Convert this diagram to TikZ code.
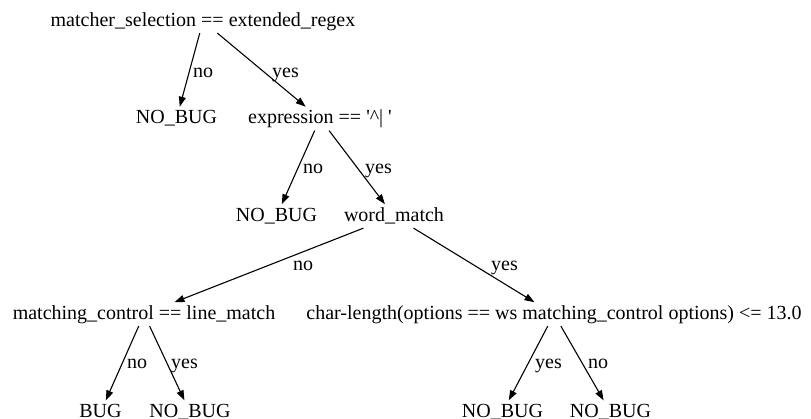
\documentclass[tikz,border=0pt]{standalone}
\usepackage{fontspec}
\setmainfont{Liberation Serif}
\usetikzlibrary{arrows.meta}
\begin{document}
\begin{tikzpicture}[x=1pt,y=-1pt,
  treenode/.style={font=\fontsize{20pt}{24pt}\selectfont, inner xsep=3pt, inner ysep=0pt,
                   text height=16.6pt, text depth=6.9pt, anchor=base},
  edgelabel/.style={font=\fontsize{20pt}{24pt}\selectfont, inner sep=0pt, anchor=base},
  branch/.style={-{Triangle[length=10pt,width=7pt]}, line width=1.1pt}]
\useasboundingbox (0,0) rectangle (811,418);

% decision nodes and leaves
\node[treenode] (root) at (203,26)    {matcher\_selection == extended\_regex};
\node[treenode] (nb1)  at (176.5,123.5) {NO\_BUG};
\node[treenode] (expr) at (320,123.5) {expression == \textquotesingle\textasciicircum\textbar\ \textquotesingle};
\node[treenode] (nb2)  at (276.5,221) {NO\_BUG};
\node[treenode] (wm)   at (394,221)   {word\_match};
\node[treenode] (mc)   at (144,319)   {matching\_control == line\_match};
\node[treenode] (cl)   at (554,319)   {char-length(options == ws matching\_control options) <= 13.0};
\node[treenode] (bug)  at (100.5,417.2) {BUG};
\node[treenode] (nb3)  at (190,417.2) {NO\_BUG};
\node[treenode] (nb4)  at (502.5,417.2) {NO\_BUG};
\node[treenode] (nb5)  at (610.5,417.2) {NO\_BUG};

% branches
\draw[branch] (root) -- (nb1);
\draw[branch] (root) -- (expr);
\draw[branch] (expr) -- (nb2);
\draw[branch] (expr) -- (wm);
\draw[branch] (wm) -- (mc);
\draw[branch] (wm) -- (cl);
\draw[branch] (mc) -- (bug);
\draw[branch] (mc) -- (nb3);
\draw[branch] (cl) -- (nb4);
\draw[branch] (cl) -- (nb5);

% branch labels
\node[edgelabel] (l1)  at (203,77)    {no};
\node[edgelabel] (l2)  at (285.5,77)  {yes};
\node[edgelabel] (l3)  at (313,173)   {no};
\node[edgelabel] (l4)  at (378.5,173) {yes};
\node[edgelabel] (l5)  at (303,270)   {no};
\node[edgelabel] (l6)  at (504.5,270) {yes};
\node[edgelabel] (l7)  at (137,368)   {no};
\node[edgelabel] (l8)  at (184.5,368) {yes};
\node[edgelabel] (l9)  at (548.5,368) {yes};
\node[edgelabel] (l10) at (598,368)   {no};
\end{tikzpicture}
\end{document}
